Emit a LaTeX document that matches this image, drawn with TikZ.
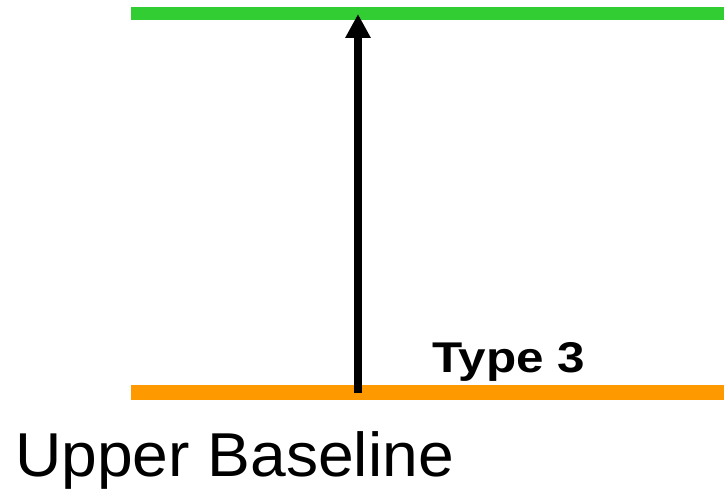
\documentclass[tikz,border=0pt]{standalone}
\usepackage{fontspec}
\setmainfont{Liberation Sans}
\usetikzlibrary{arrows.meta,positioning}

\definecolor{topgreen}{RGB}{50,205,50}
\definecolor{baseorange}{RGB}{255,153,0}

\begin{document}
\begin{tikzpicture}[x=1pt,y=-1pt,
        base line/.style={line width=13pt},
        rise/.style={-{Triangle[length=24pt,width=24pt]},line width=8pt},
        tag/.style={inner sep=0pt,anchor=base west}]
\useasboundingbox (0,0) rectangle (724,494);

\coordinate (TopL) at (131,14);
\coordinate (TopR) at (724,14);
\coordinate (BotL) at (131,393);
\coordinate (BotR) at (724,393);
\draw[base line,draw=topgreen] (TopL) -- (TopR);
\draw[base line,draw=baseorange,line width=15pt] (BotL) -- (BotR);

% the rise from the lower line to the upper one
\coordinate (RiseStart) at (358,393);
\coordinate (RiseEnd) at (358,14);
\draw[rise] (RiseStart) -- (RiseEnd);

\node (Type) [tag,font=\bfseries\fontsize{43}{43}\selectfont,xscale=1.15] at (432,372.5) {Type 3};
\node (Label) [tag,font=\fontsize{62}{62}\selectfont,xscale=1.035] at (15,477) {Upper Baseline};

\end{tikzpicture}
\end{document}
